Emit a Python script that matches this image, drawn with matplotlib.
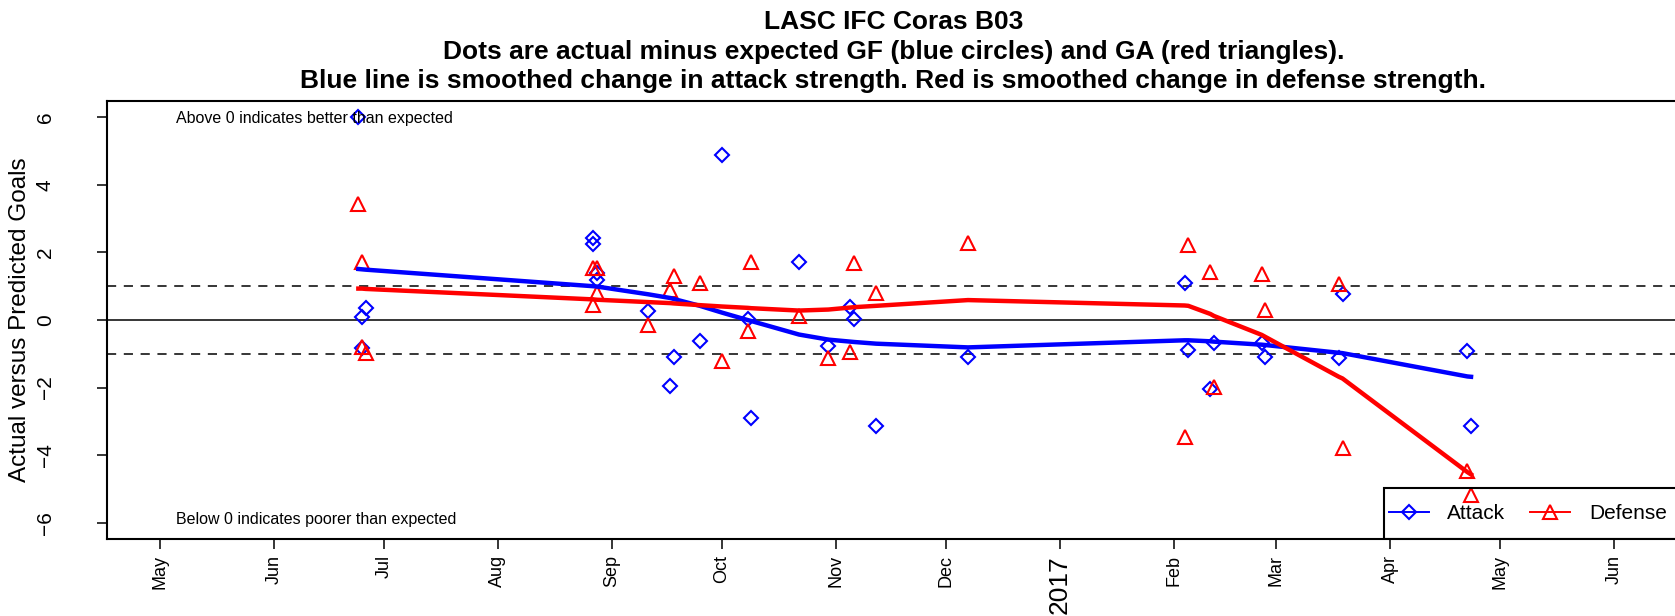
import matplotlib
matplotlib.use("Agg")
import matplotlib.pyplot as plt
import matplotlib.dates as mdates
from matplotlib.lines import Line2D
from matplotlib.patches import Rectangle
import numpy as np
from datetime import datetime, timedelta

plt.rcParams['font.family'] = ['Liberation Sans', 'DejaVu Sans']

# ---------------- data ----------------
match_dates = ["2016-06-24", "2016-06-25", "2016-06-25", "2016-06-26",
               "2016-08-27", "2016-08-27", "2016-08-28", "2016-08-28",
               "2016-09-11", "2016-09-17", "2016-09-18", "2016-09-25",
               "2016-10-01", "2016-10-08", "2016-10-09", "2016-10-22",
               "2016-10-30", "2016-11-05", "2016-11-06", "2016-11-12",
               "2016-12-07", "2017-02-04", "2017-02-05", "2017-02-11",
               "2017-02-12", "2017-02-25", "2017-02-26", "2017-03-18",
               "2017-03-19", "2017-04-22", "2017-04-23"]
attack_resid = [6.00, -0.84, 0.10, 0.35,
                2.43, 2.24, 1.38, 1.18,
                0.27, -1.94, -1.08, -0.61,
                4.88, 0.02, -2.91, 1.72,
                -0.76, 0.39, 0.02, -3.14,
                -1.08, 1.10, -0.89, -2.05,
                -0.67, -0.67, -1.08, -1.13,
                0.76, -0.91, -3.14]
defense_resid = [3.43, -0.79, 1.73, -0.99,
                 1.53, 0.44, 1.53, 0.79,
                 -0.15, 0.89, 1.30, 1.10,
                 -1.20, -0.32, 1.72, 0.12,
                 -1.13, -0.94, 1.70, 0.79,
                 2.29, -3.45, 2.22, 1.43,
                 -1.99, 1.35, 0.29, 1.06,
                 -3.80, -4.47, -5.18]
attack_smooth = [1.51, 1.50, 1.50, 1.49,
                 1.00, 1.00, 0.99, 0.99,
                 0.76, 0.65, 0.62, 0.42,
                 0.22, 0.00, -0.03, -0.43,
                 -0.58, -0.64, -0.65, -0.70,
                 -0.81, -0.60, -0.60, -0.63,
                 -0.64, -0.73, -0.74, -0.97,
                 -0.98, -1.67, -1.68]
defense_smooth = [0.93, 0.93, 0.93, 0.92,
                  0.61, 0.61, 0.60, 0.60,
                  0.53, 0.50, 0.49, 0.44,
                  0.40, 0.36, 0.35, 0.28,
                  0.31, 0.37, 0.38, 0.42,
                  0.59, 0.43, 0.42, 0.18,
                  0.12, -0.44, -0.50, -1.68,
                  -1.73, -4.50, -4.57]

tick_dates = ["2016-05-01", "2016-06-01", "2016-07-01", "2016-08-01",
              "2016-09-01", "2016-10-01", "2016-11-01", "2016-12-01",
              "2017-01-01", "2017-02-01", "2017-03-01", "2017-04-01",
              "2017-05-01", "2017-06-01"]
tick_labels = ["May", "Jun", "Jul", "Aug", "Sep", "Oct", "Nov", "Dec",
               "2017", "Feb", "Mar", "Apr", "May", "Jun"]
y_ticks = [-6, -4, -2, 0, 2, 4, 6]
legend_labels = ["Attack", "Defense"]

title = ("LASC IFC Coras B03\n"
         "Dots are actual minus expected GF (blue circles) and GA (red triangles).\n"
         "Blue line is smoothed change in attack strength. Red is smoothed change in defense strength.")

# ---------------- figure ----------------
W, H = 1675, 616
fig = plt.figure(figsize=(W / 100, H / 100), dpi=100)
ax_left_px, ax_right_px = 106.8, 1680.0
ax_top_px, ax_bot_px = 100.7, 539.0
ax_w_px = ax_right_px - ax_left_px
ax_h_px = ax_bot_px - ax_top_px
ax = fig.add_axes([ax_left_px / W, 1 - ax_bot_px / H, ax_w_px / W, ax_h_px / H])

x = mdates.date2num([datetime.strptime(d, "%Y-%m-%d") for d in match_dates])
base = datetime(2016, 5, 1)
ax.set_xlim(mdates.date2num(base - timedelta(days=14.5)),
            mdates.date2num(base + timedelta(days=413.9)))
ax.set_ylim(-6.48, 6.49)

ax.axhline(0, color='black', lw=1.1, zorder=1)
ax.axhline(1, color='black', lw=1.1, ls=(0, (6, 5)), zorder=1)
ax.axhline(-1, color='black', lw=1.1, ls=(0, (6, 5)), zorder=1)

ax.plot(x, attack_resid, ls='none', marker='D', ms=7, mfc='none',
        mec='#0000FF', mew=1.5, zorder=3)
ax.plot(x, defense_resid, ls='none', marker='^', ms=9.5, mfc='none',
        mec='#FF0000', mew=1.5, zorder=3)
ax.plot(x, attack_smooth, color='#0000FF', lw=3.2, zorder=4)
ax.plot(x, defense_smooth, color='#FF0000', lw=3.2, zorder=4)

ax.text(0.044, 5.96, "Above 0 indicates better than expected", transform=ax.get_yaxis_transform(),
        fontsize=11.5, va='center', ha='left')
ax.text(0.044, -5.9, "Below 0 indicates poorer than expected", transform=ax.get_yaxis_transform(),
        fontsize=11.5, va='center', ha='left')

# ticks
tx = mdates.date2num([datetime.strptime(d, "%Y-%m-%d") for d in tick_dates])
ax.set_xticks(tx)
ax.set_xticklabels(tick_labels, rotation=90)
for lab, txt in zip(ax.get_xticklabels(), tick_labels):
    lab.set_fontsize(19 if txt == "2017" else 13)
    lab.set_va('top')
    lab.set_ha('center')
ax.tick_params(axis='x', length=7.5, width=1.1, pad=4)

ax.set_yticks(y_ticks)
ax.set_yticklabels([("\u2212%d" % -v) if v < 0 else "%d" % v for v in y_ticks])
for lab in ax.get_yticklabels():
    lab.set_rotation(90)
    lab.set_va('center')
    lab.set_ha('right')
    lab.set_fontsize(15)
ax.tick_params(axis='y', length=7.5, width=1.1, pad=30)

ax.set_ylabel("Actual versus Predicted Goals", fontsize=17.5, va='center')
ax.yaxis.set_label_coords((20 - ax_left_px) / ax_w_px, 0.5)

for s in ax.spines.values():
    s.set_linewidth(1.5)

# legend (box drawn separately to mimic R's padding)
box_left_px, box_top_px = 1384.0, 488.0
ax.add_patch(Rectangle(((box_left_px - ax_left_px) / ax_w_px, 0),
                       0.5, (ax_bot_px - box_top_px) / ax_h_px,
                       transform=ax.transAxes, fill=False, edgecolor='black',
                       lw=1.5, zorder=5))
handles = [Line2D([], [], color='#0000FF', lw=1.4, marker='D', ms=7, mfc='none', mec='#0000FF', mew=1.5),
           Line2D([], [], color='#FF0000', lw=1.4, marker='^', ms=9.5, mfc='none', mec='#FF0000', mew=1.5)]
leg = ax.legend(handles, legend_labels, loc='center left',
                bbox_to_anchor=((1389 - ax_left_px) / ax_w_px,
                                (ax_bot_px - (box_top_px + ax_bot_px) / 2) / ax_h_px),
                ncol=2, fontsize=15, frameon=False, borderaxespad=0, borderpad=0,
                handlelength=1.9, handletextpad=0.9, columnspacing=1.2)

ax_center = (ax_left_px + ax_right_px) / 2 / W
fig.text(ax_center, 1 - 51.5 / H, title, ha='center', va='center', fontsize=19,
         fontweight='bold', linespacing=1.28)

fig.savefig("out.png", dpi=100)
